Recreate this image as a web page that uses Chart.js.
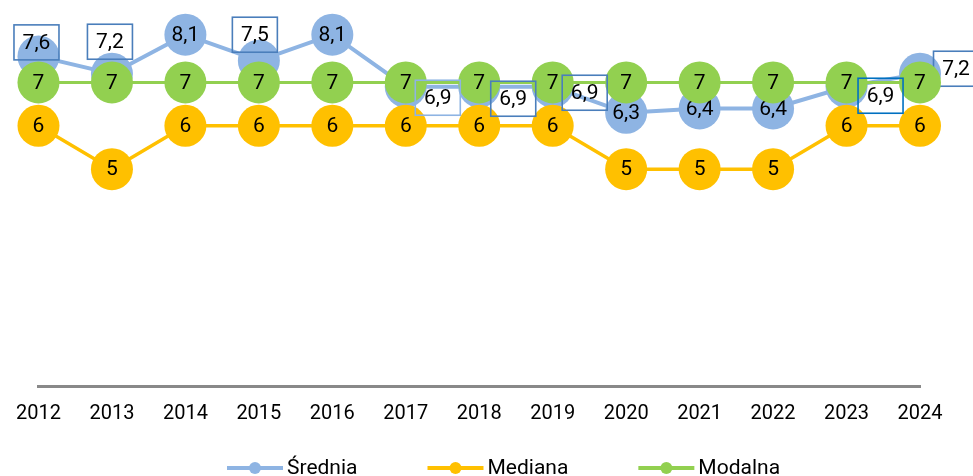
<!DOCTYPE html>
<html lang="pl">
<head>
<meta charset="utf-8">
<title>Średnia, mediana i modalna</title>
<script src="https://cdn.jsdelivr.net/npm/chart.js@4"></script>
<style>
  html, body { margin: 0; padding: 0; background: #fff; }
  #wrap { width: 973px; height: 476px; overflow: hidden; }
</style>
</head>
<body>
<div id="wrap"><canvas id="chart"></canvas></div>
<script>
// values
const years = ['2012', '2013', '2014', '2015', '2016', '2017', '2018', '2019', '2020', '2021', '2022', '2023', '2024'];
const srednia = [7.6, 7.2, 8.1, 7.5, 8.1, 6.9, 6.9, 6.9, 6.3, 6.4, 6.4, 6.9, 7.2];
const mediana = [6, 5, 6, 6, 6, 6, 6, 6, 5, 5, 5, 6, 6];
const modalna = [7, 7, 7, 7, 7, 7, 7, 7, 7, 7, 7, 7, 7];

// where the blue labels sit (offset from the point, framed) - null = inside the circle
// under: frame is drawn before the later series so their dots cover it
const sredniaLabels = [
  {dx: -2, dy: -14, border: '#4a7ebb'},
  {dx: -2, dy: -32, border: '#4a7ebb'},
  null,
  {dx: -4, dy: -26, border: '#4a7ebb'},
  null,
  {dx: 32, dy: 11, border: '#8eb4e3'},
  {dx: 34, dy: 12, border: '#4a7ebb'},
  {dx: 32, dy: 6, border: '#4a7ebb'},
  null,
  null,
  null,
  {dx: 34, dy: 9, border: '#0070c0'},
  {dx: 36, dy: -5, border: '#4a7ebb', under: true}
];

const fmt = v => String(v).replace('.', ',');

function drawLabel(ctx, text, x, y, p) {
  if (p) {
    x += p.dx;
    y += p.dy;
    ctx.strokeStyle = p.border;
    ctx.lineWidth = 1.6;
    ctx.strokeRect(x - 22.5, y - 17.5, 45, 35);
  }
  ctx.fillText(text, x, y + 1);
}

function labelStyle(ctx) {
  ctx.font = '21px Roboto';
  ctx.fillStyle = '#000';
  ctx.textAlign = 'center';
  ctx.textBaseline = 'middle';
}

// value labels: inside labels go right after their dataset, framed ones on top
const pointLabels = {
  id: 'pointLabels',
  afterDatasetDraw(chart, args) {
    const ds = chart.data.datasets[args.index];
    const place = ds.labelPlacement || [];
    const ctx = chart.ctx;
    ctx.save();
    labelStyle(ctx);
    args.meta.data.forEach((pt, i) => {
      const p = place[i];
      if (p && !p.under) return;
      drawLabel(ctx, fmt(ds.data[i]), pt.x, pt.y, p);
    });
    ctx.restore();
  },
  afterDatasetsDraw(chart) {
    const ctx = chart.ctx;
    ctx.save();
    labelStyle(ctx);
    chart.data.datasets.forEach((ds, di) => {
      const place = ds.labelPlacement;
      if (!place) return;
      chart.getDatasetMeta(di).data.forEach((pt, i) => {
        const p = place[i];
        if (p && !p.under) drawLabel(ctx, fmt(ds.data[i]), pt.x, pt.y, p);
      });
    });
    ctx.restore();
  }
};

// legend with a line + dot sample like the original
const lineLegend = {
  id: 'lineLegend',
  afterDraw(chart, args, opts) {
    const ctx = chart.ctx;
    ctx.save();
    ctx.font = opts.font;
    ctx.textBaseline = 'middle';
    ctx.textAlign = 'left';
    let x = opts.x;
    chart.data.datasets.forEach(ds => {
      ctx.strokeStyle = ds.borderColor;
      ctx.lineWidth = 4;
      ctx.beginPath();
      ctx.moveTo(x, opts.y);
      ctx.lineTo(x + opts.sample, opts.y);
      ctx.stroke();
      ctx.fillStyle = ds.backgroundColor;
      ctx.beginPath();
      ctx.arc(x + opts.sample / 2, opts.y, 6, 0, Math.PI * 2);
      ctx.fill();
      ctx.fillStyle = '#000';
      ctx.fillText(ds.label, x + opts.sample + opts.textGap, opts.y + 1);
      x += opts.sample + opts.textGap + ctx.measureText(ds.label).width + opts.itemGap;
    });
    ctx.restore();
  }
};

Chart.defaults.font.family = 'Roboto';

const ctx = document.getElementById('chart');

new Chart(ctx, {
  type: 'line',
  data: {
    labels: years,
    datasets: [
      {
        label: 'Średnia',
        data: srednia,
        borderColor: '#8eb4e3',
        backgroundColor: '#8eb4e3',
        borderWidth: 4,
        pointRadius: 21,
        pointBorderWidth: 0,
        order: 3,
        clip: false,
        labelPlacement: sredniaLabels
      },
      {
        label: 'Mediana',
        data: mediana,
        borderColor: '#ffc000',
        backgroundColor: '#ffc000',
        borderWidth: 3.5,
        pointRadius: 21,
        pointBorderWidth: 0,
        order: 2,
        clip: false
      },
      {
        label: 'Modalna',
        data: modalna,
        borderColor: '#92d050',
        backgroundColor: '#92d050',
        borderWidth: 3,
        pointRadius: 21,
        pointBorderWidth: 0,
        order: 1,
        clip: false
      }
    ]
  },
  options: {
    responsive: true,
    maintainAspectRatio: false,
    animation: false,
    events: [],
    layout: {
      autoPadding: false,
      padding: {left: 34, right: 53, top: 0, bottom: 34}
    },
    scales: {
      x: {
        offset: false,
        grid: {display: false, drawTicks: false},
        border: {display: true, color: '#898989', width: 3},
        ticks: {color: '#000', font: {size: 20}, padding: 16, autoSkip: false, maxRotation: 0}
      },
      y: {
        display: false,
        min: 0,
        max: 8.9
      }
    },
    plugins: {
      legend: {display: false},
      tooltip: {enabled: false},
      lineLegend: {x: 227, y: 468, sample: 56, textGap: 4, itemGap: 70, font: '21px Roboto'}
    }
  },
  plugins: [pointLabels, lineLegend]
});
</script>
</body>
</html>
